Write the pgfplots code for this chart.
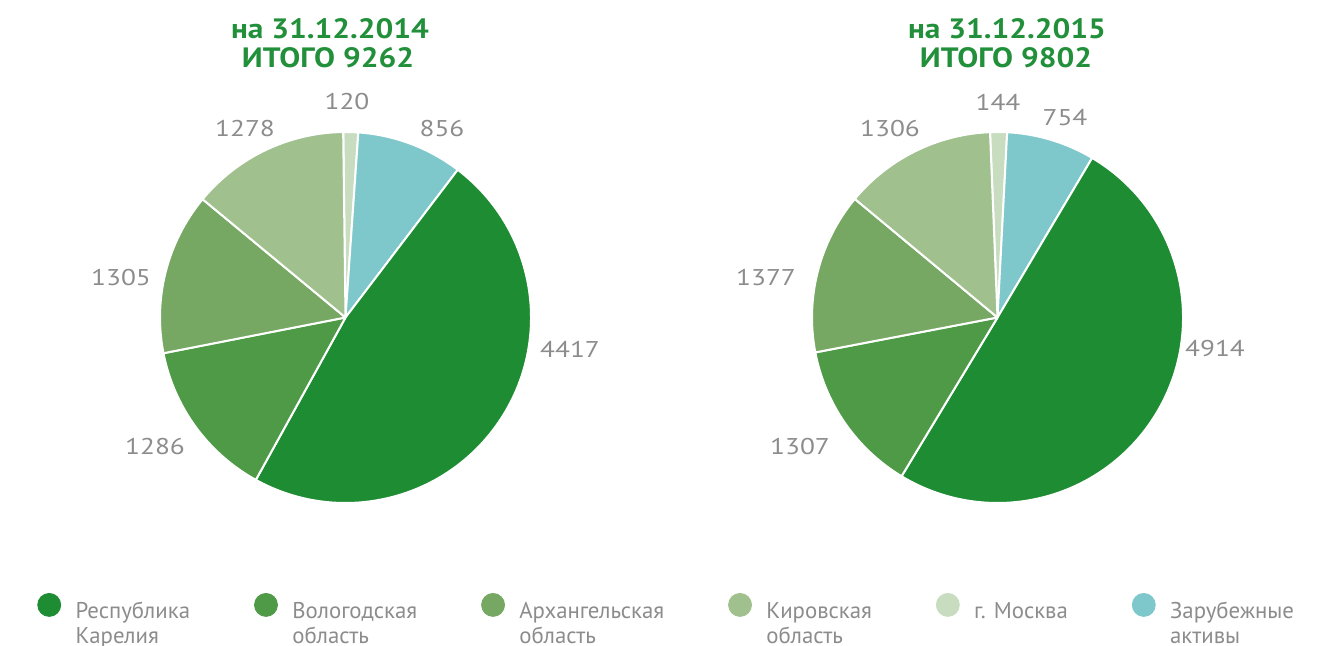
\documentclass[border=0pt]{standalone}
\usepackage{fontspec}
\setmainfont{PT Sans}
\newfontfamily\titlefont[FakeStretch=1.12]{PT Sans}
\newfontfamily\numfont[FakeStretch=1.2]{PT Sans}
\usepackage{pgfplots}
\usepackage{pgfplotstable}
\pgfplotsset{compat=1.18}

\definecolor{cKar}{HTML}{1E8C32}
\definecolor{cVol}{HTML}{4E9A46}
\definecolor{cArh}{HTML}{76A863}
\definecolor{cKir}{HTML}{A0C18E}
\definecolor{cMos}{HTML}{C8DDBF}
\definecolor{cZar}{HTML}{7EC8CB}
\definecolor{cTitle}{HTML}{22903A}
\definecolor{cGray}{HTML}{8C8C8C}

% slices in drawing order (clockwise from the top)
\pgfplotstableread{
col v14 v15
cMos 120 144
cZar 856 754
cKar 4417 4914
cVol 1286 1307
cArh 1305 1377
cKir 1278 1306
}\piedata

% #1 column, #2 cx, #3 cy, #4 start angle
\newcommand{\drawpie}[4]{%
  \gdef\pietotal{0}%
  \foreach \i in {0,...,5}{%
    \pgfplotstablegetelem{\i}{#1}\of\piedata
    \pgfmathsetmacro\tmp{\pietotal+\pgfplotsretval}%
    \xdef\pietotal{\tmp}%
  }%
  \xdef\pieangle{#4}%
  \foreach \i in {0,...,5}{%
    \pgfplotstablegetelem{\i}{col}\of\piedata
    \edef\slicecol{\pgfplotsretval}%
    \pgfplotstablegetelem{\i}{#1}\of\piedata
    \pgfmathsetmacro\endangle{\pieangle-360*(\pgfplotsretval/\pietotal)}%
    \edef\doslice{\noexpand\filldraw[fill=\slicecol, draw=white, line width=1pt, line join=round]
      (axis cs:#2,#3) -- ++(\pieangle:92.75pt) arc[start angle=\pieangle, end angle=\endangle, radius=92.75pt] -- cycle;}%
    \doslice
    \xdef\pieangle{\endangle}%
  }%
}

\pgfplotsset{legcirc/.style={legend image code/.code={\fill[#1] (5.75pt,9.18pt) circle (5.75pt);}}}

\begin{document}
\begin{tikzpicture}
\begin{axis}[
  name=ax,
  width=663pt, height=323pt, scale only axis,
  xmin=0, xmax=1326, ymin=0, ymax=646,
  hide axis, clip=false,
  legend columns=6,
  legend cell align=left,
  legend style={draw=none, fill=none,
     at={(axis description cs:0.02813,0.0820)}, anchor=north west,
     font=\fontsize{11.4}{12.6}\selectfont, text=cGray,
     nodes={inner sep=0pt, outer sep=0pt, align=left},
     /tikz/every odd column/.append style={column sep=7.2pt},
     /tikz/every even column/.append style={column sep=32pt},
     inner sep=0pt, outer sep=0pt},
]
\pgfplotsextra{\drawpie{v14}{345.5}{328.5}{90.7}}
\pgfplotsextra{\drawpie{v15}{997.5}{328.5}{92.3}}

\addlegendimage{legcirc=cKar}\addlegendentry{\strut Республика\\\strut Карелия}
\addlegendimage{legcirc=cVol}\addlegendentry{\strut Вологодская\\\strut область}
\addlegendimage{legcirc=cArh}\addlegendentry{\strut Архангельская\\\strut область}
\addlegendimage{legcirc=cKir}\addlegendentry{\strut Кировская\\\strut область}
\addlegendimage{legcirc=cMos}\addlegendentry{\strut г. Москва\\\strut}
\addlegendimage{legcirc=cZar}\addlegendentry{\strut Зарубежные\\\strut активы}

% titles
\node[anchor=base, text=cTitle, font={\titlefont\bfseries\fontsize{14}{16}\selectfont}] at (axis cs:330,607) {на 31.12.2014};
\node[anchor=base, text=cTitle, font={\titlefont\bfseries\fontsize{14}{16}\selectfont}] at (axis cs:328,578) {ИТОГО 9262};
\node[anchor=base, text=cTitle, font={\titlefont\bfseries\fontsize{14}{16}\selectfont}] at (axis cs:1007,607) {на 31.12.2015};
\node[anchor=base, text=cTitle, font={\titlefont\bfseries\fontsize{14}{16}\selectfont}] at (axis cs:1006,578) {ИТОГО 9802};

% value labels
\tikzset{vlab/.style={text=cGray, inner sep=0pt, font={\numfont\fontsize{11.4}{12}\selectfont}}}
\node[vlab] at (axis cs:347,544) {120};
\node[vlab] at (axis cs:442,517) {856};
\node[vlab] at (axis cs:570,297) {4417};
\node[vlab] at (axis cs:155,199) {1286};
\node[vlab] at (axis cs:121,368) {1305};
\node[vlab] at (axis cs:245,517) {1278};
\node[vlab] at (axis cs:998,544) {144};
\node[vlab] at (axis cs:1065,528) {754};
\node[vlab] at (axis cs:1215,297) {4914};
\node[vlab] at (axis cs:800,199) {1307};
\node[vlab] at (axis cs:766,368) {1377};
\node[vlab] at (axis cs:890,517) {1306};
\end{axis}
\pgfresetboundingbox
\path (ax.south west) rectangle (ax.north east);
\end{tikzpicture}
\end{document}
